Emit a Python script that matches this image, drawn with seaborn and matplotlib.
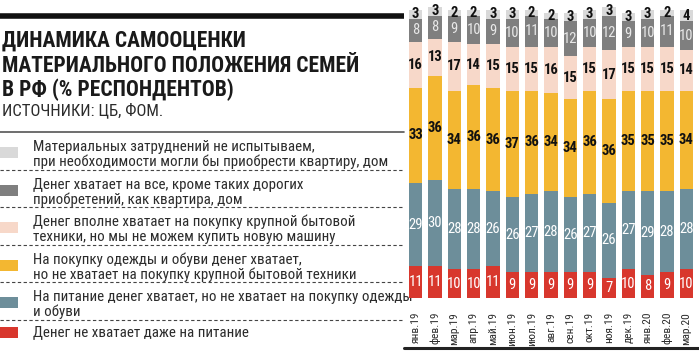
import os
import numpy as np
import pandas as pd
import matplotlib
matplotlib.use('Agg')
import matplotlib.pyplot as plt
import seaborn as sns
from matplotlib import font_manager
from matplotlib.font_manager import FontProperties
from matplotlib.patches import Rectangle

# -------------------------
# Data (% of respondents)
# -------------------------
months = ['янв.19', 'фев.19', 'мар.19', 'апр.19', 'май.19', 'июн.19', 'июл.19',
          'авг.19', 'сен.19', 'окт.19', 'ноя.19', 'дек.19', 'янв.20', 'фев.20', 'мар.20']

no_problems = [3, 3, 2, 2, 3, 3, 2, 2, 3, 3, 3, 3, 3, 2, 4]
all_but_housing = [8, 8, 9, 10, 9, 10, 11, 10, 12, 10, 12, 9, 10, 11, 10]
appliances = [16, 13, 17, 14, 15, 15, 15, 16, 15, 15, 17, 15, 15, 15, 14]
clothes = [33, 36, 34, 36, 36, 37, 36, 34, 34, 36, 36, 35, 35, 35, 34]
food_only = [29, 30, 28, 28, 26, 26, 27, 28, 26, 27, 26, 27, 29, 28, 28]
not_even_food = [11, 11, 10, 10, 11, 9, 9, 9, 9, 9, 7, 10, 8, 9, 10]

legend_labels = [
    'Материальных затруднений не испытываем,\nпри необходимости могли бы приобрести квартиру, дом',
    'Денег хватает на все, кроме таких дорогих\nприобретений, как квартира, дом',
    'Денег вполне хватает на покупку крупной бытовой\nтехники, но мы не можем купить новую машину',
    'На покупку одежды и обуви денег хватает,\nно не хватает на покупку крупной бытовой техники',
    'На питание денег хватает, но не хватает на покупку одежды\nи обуви',
    'Денег не хватает даже на питание',
]
series = [no_problems, all_but_housing, appliances, clothes, food_only, not_even_food]
colors = ['#d9d9d9', '#7f7f7f', '#f7d8c9', '#f3b731', '#6d8e9a', '#d8372d']
label_colors = ['#111111', '#e8e8e8', '#111111', '#111111', '#ffffff', '#ffffff']
label_bold = [True, False, True, True, False, False]

# -------------------------
# Fonts: look for a narrow/condensed face, else plain Roboto
# -------------------------
sns.set_style('white')
plt.rcParams['font.family'] = ['Roboto', 'DejaVu Sans']

def _weight(f):
    w = f.weight
    if isinstance(w, str):
        w = {'normal': 400, 'regular': 400, 'book': 400, 'bold': 700}.get(w.lower(), 500)
    return w

def find_condensed():
    prio = ['liberationsansnarrow', 'robotocondensed', 'notosans', 'opensans', 'dejavusans']
    bad = ('italic', 'oblique', 'light', 'thin', 'medium', 'black', 'semi', 'extra', 'ultra', 'mono')
    found = {}
    for f in font_manager.fontManager.ttflist:
        fn = os.path.basename(f.fname).lower().replace('_', '').replace(' ', '')
        if not ('narrow' in fn or 'condensed' in fn):
            continue
        if any(b in fn for b in bad) or f.style != 'normal':
            continue
        key = next((p for p in prio if fn.startswith(p)), None)
        if key is None:
            continue
        w = _weight(f)
        kind = 'bold' if w >= 700 else ('regular' if w <= 400 else None)
        if kind:
            found.setdefault(key, {})[kind] = f.fname
    for p in prio:
        if p in found and 'regular' in found[p] and 'bold' in found[p]:
            return found[p]
    return None

COND = find_condensed()

if COND:
    SIZES = dict(title=15.5, source=12, legend=10.8, tick=8.2, value=10.5)
else:
    SIZES = dict(title=14, source=10, legend=10, tick=8.3, value=8.5)

def fp(size, bold=False):
    if COND:
        return FontProperties(fname=COND['bold' if bold else 'regular'], size=size)
    return FontProperties(family=['Roboto', 'DejaVu Sans'], size=size,
                          weight='bold' if bold else 'normal')

TXT = '#2b2b2b'

# long table for seaborn
rows = []
for lab, vals in zip(legend_labels, series):
    for m, v in zip(months, vals):
        rows.append({'month': m, 'cat': lab, 'value': v})
df = pd.DataFrame(rows)
df['month'] = pd.Categorical(df['month'], categories=months, ordered=True)

W, H = 699, 356
fig = plt.figure(figsize=(W / 100, H / 100), dpi=100)

# -------------------------
# Left panel (pixel coordinates)
# -------------------------
lax = fig.add_axes([0, 0, 1, 1])
lax.set_xlim(0, W)
lax.set_ylim(H, 0)
lax.axis('off')

lax.plot([0, 404], [15.5, 15.5], color='#111111', lw=4, solid_capstyle='butt')
title_lines = ['ДИНАМИКА САМООЦЕНКИ', 'МАТЕРИАЛЬНОГО ПОЛОЖЕНИЯ СЕМЕЙ', 'В РФ (% РЕСПОНДЕНТОВ)']
for i, line in enumerate(title_lines):
    lax.text(2, 47 + i * 24.5, line, fontproperties=fp(SIZES['title'], True),
             color='#1a1a1a', va='baseline', ha='left')
lax.text(2, 115, 'ИСТОЧНИКИ: ЦБ, ФОМ.', fontproperties=fp(SIZES['source']),
         color=TXT, va='baseline', ha='left')
lax.plot([0, 404], [132, 132], color='#555555', lw=1.2)

step = 37.6
for i, (lab, col) in enumerate(zip(legend_labels, colors)):
    top = 132 + i * step
    parts = lab.split('\n')
    if len(parts) > 1:
        sw_top, base = top + 15, top + 19
    else:
        # single-line entry sits right under its separator
        sw_top, base = top + 7, top + 16
    lax.add_patch(Rectangle((0, sw_top), 18, 11, color=col, lw=0))
    for j, part in enumerate(parts):
        lax.text(33, base + j * 15, part, fontproperties=fp(SIZES['legend']),
                 color=TXT, va='baseline', ha='left')
    if i < len(legend_labels) - 1:
        lax.plot([0, 404], [top + step, top + step], color='#444444',
                 lw=0.8, ls=(0, (3, 2.2)))

# bottom rule under the month labels
lax.plot([404, W], [347.5, 347.5], color='#222222', lw=2.2)

# -------------------------
# Stacked bars
# -------------------------
ax = fig.add_axes([406 / W, 1 - 298 / H, 290 / W, 291 / H])
sns.histplot(data=df, x='month', weights='value', hue='cat',
             hue_order=legend_labels, palette=dict(zip(legend_labels, colors)),
             multiple='stack', discrete=True, shrink=0.68, alpha=1,
             linewidth=0, legend=False, ax=ax)
ax.set_xlim(-0.5, len(months) - 0.5)
ax.set_ylim(0, 101)
ax.set_xticks(range(len(months)))
ax.set_xticklabels(months, rotation=90, fontproperties=fp(SIZES['tick']), color=TXT)
ax.tick_params(axis='x', length=0, pad=10)
ax.set_yticks([])
ax.set_xlabel('')
ax.set_ylabel('')
sns.despine(ax=ax, left=True, bottom=True)
ax.set_facecolor('none')

# segment value labels, stacked from the bottom
bottom = np.zeros(len(months))
for vals, tc, bold in list(zip(series, label_colors, label_bold))[::-1]:
    vals = np.array(vals, dtype=float)
    for x, (b, v) in enumerate(zip(bottom, vals)):
        ax.text(x, b + v / 2, f'{int(v)}', ha='center', va='center',
                fontproperties=fp(SIZES['value'], bold), color=tc)
    bottom += vals

fig.savefig('out.png', dpi=100)
